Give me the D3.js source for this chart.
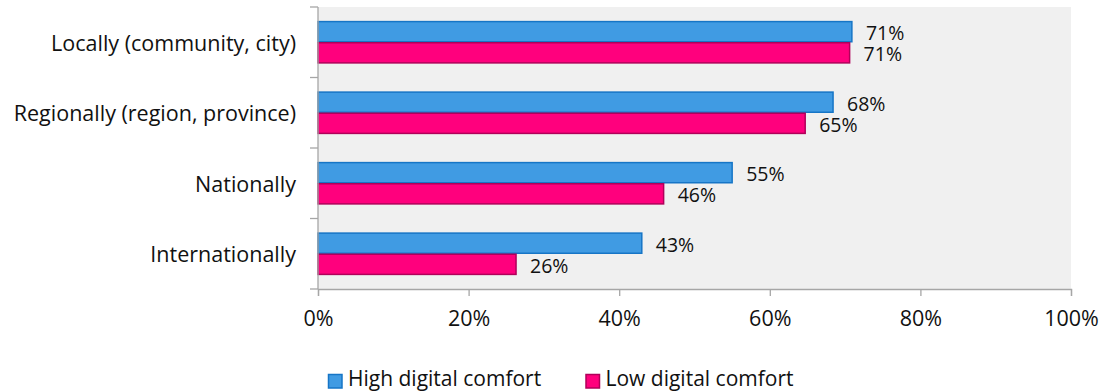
<!DOCTYPE html>
<html>
<head>
<meta charset="utf-8">
<script src="https://cdn.jsdelivr.net/npm/d3@7"></script>
<style>
  html, body { margin: 0; padding: 0; background: #ffffff; }
  svg { display: block; font-family: "Open Sans", "Noto Sans", sans-serif; }
</style>
</head>
<body>
<svg id="chart" width="1104" height="392"></svg>
<script>
// Categories (top to bottom) and the two series, in percent
const categories = [
  "Locally (community, city)",
  "Regionally (region, province)",
  "Nationally",
  "Internationally"
];
const highComfort = [70.9, 68.4, 55.0, 43.0];
const lowComfort  = [70.6, 64.7, 45.9, 26.3];
const seriesNames = ["High digital comfort", "Low digital comfort"];
const tickValues  = [0, 20, 40, 60, 80, 100];

const colors = {
  high: { fill: "#409be3", stroke: "#1675c6" },
  low:  { fill: "#ff007d", stroke: "#b0005a" }
};

const margin = { left: 318, right: 33, top: 7, bottom: 103 };
const width = 1104, height = 392;
const plotW = width - margin.left - margin.right;
const plotH = height - margin.top - margin.bottom;

const labelSize = 21.5;
const valueSize = 19.5;
const legendSize = 21;

const svg = d3.select("#chart");
const g = svg.append("g").attr("transform", `translate(${margin.left},${margin.top})`);

const x = d3.scaleLinear().domain([0, 100]).range([0, plotW]);
const y = d3.scaleBand().domain(categories).range([0, plotH]).paddingInner(0.4).paddingOuter(0.2);
const sub = d3.scaleBand().domain(["high", "low"]).range([0, y.bandwidth()]);

// Plot background
g.append("rect")
  .attr("x", 0).attr("y", 0)
  .attr("width", plotW).attr("height", plotH)
  .attr("fill", "#f0f0f0");

const rows = categories.map((c, i) => ({ cat: c, high: highComfort[i], low: lowComfort[i] }));

const fmt = v => Math.round(v) + "%";

["high", "low"].forEach(key => {
  g.selectAll(null)
    .data(rows)
    .join("rect")
    .attr("x", 0)
    .attr("y", d => y(d.cat) + sub(key) + 0.5)
    .attr("width", d => x(d[key]))
    .attr("height", sub.bandwidth() - 1)
    .attr("fill", colors[key].fill)
    .attr("stroke", colors[key].stroke)
    .attr("stroke-width", 1.5);

  g.selectAll(null)
    .data(rows)
    .join("text")
    .attr("x", d => x(d[key]) + 14)
    .attr("y", d => y(d.cat) + sub(key) + sub.bandwidth() / 2 + 1)
    .attr("dominant-baseline", "central")
    .attr("font-size", valueSize)
    .attr("fill", "#111")
    .text(d => fmt(d[key]));
});

// Left category axis: ticks at band boundaries, labels centred on bands
const axisColor = "#a6a6a6";
g.append("line")
  .attr("x1", 0).attr("x2", 0).attr("y1", 0).attr("y2", plotH)
  .attr("stroke", axisColor).attr("stroke-width", 1.3);
d3.range(categories.length + 1).forEach(i => {
  const yy = i * plotH / categories.length;
  g.append("line")
    .attr("x1", -8).attr("x2", 0).attr("y1", yy).attr("y2", yy)
    .attr("stroke", axisColor).attr("stroke-width", 1.3);
});
g.selectAll(null)
  .data(categories)
  .join("text")
  .attr("x", -22)
  .attr("y", d => y(d) + y.bandwidth() / 2)
  .attr("text-anchor", "end")
  .attr("dominant-baseline", "central")
  .attr("font-size", labelSize)
  .attr("fill", "#111")
  .text(d => d);

// Bottom value axis
const xAxis = d3.axisBottom(x)
  .tickValues(tickValues)
  .tickSize(7)
  .tickFormat(d => d + "%");
const xg = g.append("g").attr("transform", `translate(0,${plotH})`).call(xAxis);
xg.select(".domain").attr("stroke", axisColor).attr("stroke-width", 1.3);
xg.selectAll(".tick line").attr("stroke", axisColor).attr("stroke-width", 1.3);
xg.selectAll(".tick text")
  .attr("font-size", labelSize)
  .attr("font-family", "\"Open Sans\", sans-serif")
  .attr("fill", "#111")
  .attr("dy", 0)
  .attr("y", 37);

// Legend: swatch followed by series name
const legendItems = [
  { key: "high", name: seriesNames[0], x: 328.5 },
  { key: "low",  name: seriesNames[1], x: 586 }
];
legendItems.forEach(item => {
  svg.append("rect")
    .attr("x", item.x).attr("y", 374.5)
    .attr("width", 13.5).attr("height", 13.5)
    .attr("fill", colors[item.key].fill)
    .attr("stroke", colors[item.key].stroke)
    .attr("stroke-width", 1.5);
  svg.append("text")
    .attr("x", item.x + 19.5)
    .attr("y", 385.5)
    .attr("font-size", legendSize)
    .attr("fill", "#111")
    .text(item.name);
});
</script>
</body>
</html>
